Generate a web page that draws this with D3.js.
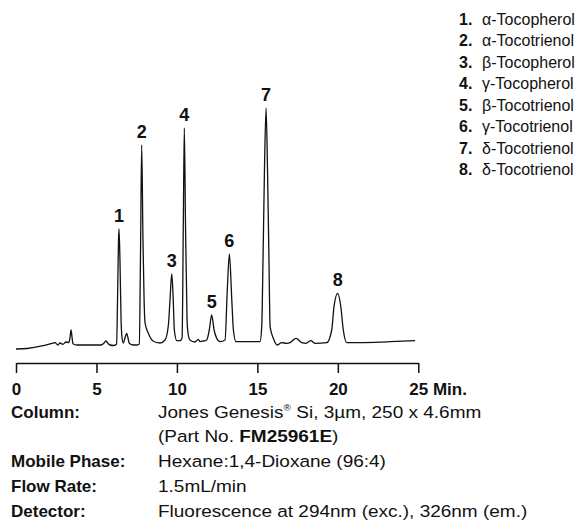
<!DOCTYPE html>
<html>
<head>
<meta charset="utf-8">
<script src="https://cdn.jsdelivr.net/npm/d3@7"></script>
<style>
  body { margin: 0; background: #fff; }
  svg { display: block; font-family: "Liberation Sans", Arial, Helvetica, sans-serif; }
</style>
</head>
<body>
<div id="chart"></div>
<script>
var svgWidth = 582;
var svgHeight = 523;

// Chromatogram trace: retention time (min) and detector response
var traceTime = [0.00, 0.68, 1.68, 2.24, 2.42, 2.61, 2.73, 2.92, 3.11, 3.29, 3.36, 3.42, 3.48, 3.54, 3.79,
  5.28, 5.47, 5.59, 5.72, 5.84, 6.09, 6.25, 6.31, 6.37, 6.40, 6.46, 6.53, 6.59, 6.67, 6.77, 6.88, 6.96,
  7.04, 7.29, 7.52, 7.66, 7.74, 7.81, 7.89, 7.96, 8.02, 8.22, 8.51, 8.95, 9.26, 9.47, 9.57, 9.68, 9.76,
  9.84, 9.99, 10.19, 10.32, 10.40, 10.46, 10.53, 10.63, 10.69, 10.81, 11.12, 11.33, 11.44, 11.64, 11.85,
  12.01, 12.16, 12.31, 12.47, 12.68, 12.99, 13.13, 13.26, 13.41, 13.51, 13.67, 15.16, 15.27, 15.35, 15.44,
  15.54, 15.63, 15.72, 15.79, 15.99, 16.24, 16.51, 16.82, 17.03, 17.40, 17.76, 18.02, 18.32, 18.58, 19.31,
  19.62, 19.76, 19.99, 20.18, 20.34, 20.55, 23.24, 24.80];
var traceSignal = [1, 1.5, 4.3, 6.7, 7.3, 5, 7, 5.7, 8, 7.5, 13, 20, 13, 6.3, 5,
  5, 7, 9, 6.5, 5, 4.5, 6, 50, 110, 121, 90, 30, 12, 7, 12, 16.7, 12,
  6.7, 5, 5, 6, 100, 205, 110, 50, 27, 17, 9, 7, 10, 25, 50, 76, 55,
  20, 9.3, 9.3, 12, 130, 222, 130, 30, 17, 10, 8, 10.7, 8.3, 9, 10,
  20, 35, 20, 11.7, 8.3, 10, 60, 96, 50, 20, 8.3, 8.3, 23.3, 90, 180,
  242, 180, 90, 23.3, 11.7, 5, 7.3, 6.7, 7.3, 11.7, 7.3, 6.7, 9.3, 6.7, 7.3,
  20, 43.3, 56.7, 44, 20, 7.3, 8.3, 9.3];

// Numbered peaks
var peakNo = ["1", "2", "3", "4", "5", "6", "7", "8"];
var peakTime = [6.40, 7.81, 9.68, 10.46, 12.16, 13.26, 15.54, 19.99];
var peakTop = [121, 205, 76, 222, 35, 96, 242, 56.7];
var peakName = ["\u03b1-Tocopherol", "\u03b1-Tocotrienol", "\u03b2-Tocopherol", "\u03b3-Tocopherol",
  "\u03b2-Tocotrienol", "\u03b3-Tocotrienol", "\u03b4-Tocotrienol", "\u03b4-Tocotrienol"];

// Axis ticks
var tickValues = [0, 5, 10, 15, 20, 25];

// Conditions table under the chart
var condLabels = ["Column:", "", "Mobile Phase:", "Flow Rate:", "Detector:"];
var condValues = ["Jones Genesis|\u00ae| Si, 3\u00b5m, 250 x 4.6mm", "(Part No. |FM25961E|)",
  "Hexane:1,4-Dioxane (96:4)", "1.5mL/min", "Fluorescence at 294nm (exc.), 326nm (em.)"];

var svg = d3.select("#chart")
  .append("svg")
  .attr("width", svgWidth)
  .attr("height", svgHeight);

// scales
var xScale = d3.scaleLinear()
  .domain([0, 25])
  .range([16, 418.3]);

var yScale = d3.scaleLinear()
  .domain([0, 250])
  .range([350, 100]);

// trace
var traceData = traceTime.map((t, i) => ({ t: t, s: traceSignal[i] }));

var line = d3.line()
  .x(d => xScale(d.t))
  .y(d => yScale(d.s))
  .curve(d3.curveMonotoneX);

svg.append("path")
  .datum(traceData)
  .attr("d", line)
  .attr("fill", "none")
  .attr("stroke", "#111")
  .attr("stroke-width", 1.3)
  .attr("stroke-linejoin", "round");

// peak numbers
svg.selectAll("text.peak")
  .data(peakNo)
  .enter()
  .append("text")
  .attr("class", "peak")
  .attr("x", (d, i) => xScale(peakTime[i]))
  .attr("y", (d, i) => yScale(peakTop[i]) - 7)
  .attr("text-anchor", "middle")
  .style("font-size", "18px")
  .style("font-weight", "bold")
  .attr("fill", "#111")
  .text(d => d);

// x axis
var bottomAxis = d3.axisBottom(xScale)
  .tickValues(tickValues)
  .tickSize(10)
  .tickSizeOuter(0)
  .tickPadding(10)
  .tickFormat(d => d === 25 ? "25 Min." : d);

var xAxis = svg.append("g")
  .attr("transform", "translate(0, 363)")
  .call(bottomAxis);

xAxis.select(".domain").attr("stroke", "#111").attr("stroke-width", 1.5);
xAxis.selectAll(".tick line").attr("stroke", "#111").attr("stroke-width", 1.5);
xAxis.selectAll(".tick text")
  .attr("fill", "#111")
  .style("font-size", "17px")
  .style("font-weight", "bold")
  .style("font-family", "'Liberation Sans', Arial, sans-serif");

// last label: keep "25" centred on its tick
xAxis.selectAll(".tick text")
  .filter(d => d === 25)
  .attr("text-anchor", "start")
  .attr("dx", "-9.5");

// legend
var legend = svg.append("g")
  .attr("transform", "translate(459, 25)");

var legendRows = legend.selectAll("g")
  .data(peakName)
  .enter()
  .append("g")
  .attr("transform", (d, i) => `translate(0, ${i * 21.43})`);

legendRows.append("text")
  .style("font-size", "16px")
  .style("font-weight", "bold")
  .attr("fill", "#111")
  .text((d, i) => peakNo[i] + ".");

legendRows.append("text")
  .attr("x", 23)
  .style("font-size", "16px")
  .attr("fill", "#111")
  .text(d => d);

// conditions
var rowY = [418, 442, 467, 492, 517];

svg.selectAll("text.condLabel")
  .data(condLabels)
  .enter()
  .append("text")
  .attr("class", "condLabel")
  .attr("x", 11)
  .attr("y", (d, i) => rowY[i])
  .style("font-size", "17px")
  .style("font-weight", "bold")
  .attr("fill", "#111")
  .text(d => d);

var condText = svg.selectAll("text.condValue")
  .data(condValues)
  .enter()
  .append("text")
  .attr("class", "condValue")
  .attr("transform", (d, i) => `translate(158, ${rowY[i]}) scale(1.117, 1)`)
  .style("font-size", "17px")
  .attr("fill", "#111");

// pieces split by "|": odd pieces are the registered mark or the bold part number
condText.each(function (d, i) {
  var parts = d.split("|");
  var el = d3.select(this);
  parts.forEach(function (p, j) {
    var span = el.append("tspan").text(p);
    if (j % 2 === 1) {
      if (p === "\u00ae") {
        span.style("font-size", "9px").attr("dy", -7);
      } else {
        span.style("font-weight", "bold");
      }
    } else if (j > 0 && parts[j - 1] === "\u00ae") {
      span.attr("dy", 7);
    }
  });
});
</script>
</body>
</html>
